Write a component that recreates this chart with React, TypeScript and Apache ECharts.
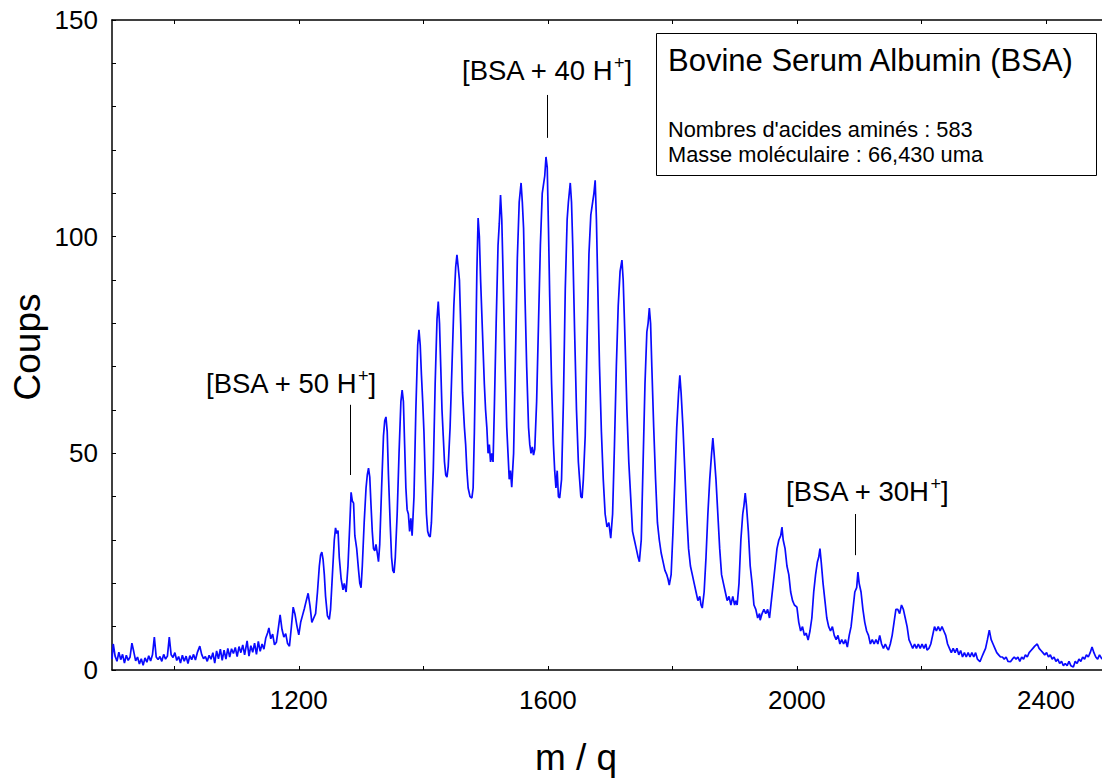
import React, { useEffect, useRef } from "react";
import * as echarts from "echarts";

const FONT = "'Liberation Sans', Arial, Helvetica, sans-serif";

// Spectrum (m/q, counts), in three segments
const lowMassSpectrum: [number, number][] = [
  [900, 2.5], [902, 6.0], [905, 3.2], [908, 2.0], [911, 4.1], [914, 2.4], [917, 3.6], [920, 1.6], [923, 3.4], [926, 2.2],
  [929, 3.0], [932, 6.2], [935, 4.2], [938, 2.1], [941, 3.0], [944, 1.4], [947, 2.6], [950, 1.1], [953, 2.8], [956, 1.8],
  [959, 3.3], [962, 2.1], [965, 3.5], [968, 7.6], [971, 3.0], [974, 2.4], [977, 3.1], [980, 2.0], [983, 3.6], [986, 2.5],
  [989, 3.2], [992, 7.6], [995, 3.5], [998, 2.9], [1001, 4.0], [1004, 2.2], [1007, 3.1], [1010, 1.6], [1013, 3.4], [1016, 2.0],
  [1019, 3.2], [1022, 1.5], [1025, 3.3], [1028, 2.4], [1031, 3.6], [1034, 2.3], [1037, 4.0], [1041, 5.5], [1044, 3.6], [1047, 2.6],
  [1050, 3.1], [1053, 2.0], [1056, 3.4], [1059, 2.5], [1062, 4.0], [1065, 1.6], [1068, 4.4], [1071, 2.6], [1074, 4.8], [1077, 2.2],
  [1080, 4.6], [1083, 2.5], [1086, 5.0], [1089, 3.0], [1092, 4.9], [1095, 3.8], [1098, 5.2], [1101, 3.1], [1104, 5.4], [1107, 4.0],
  [1110, 5.8], [1113, 3.5], [1117, 6.7], [1120, 3.2], [1123, 5.6], [1126, 4.1], [1129, 6.2], [1132, 3.6], [1135, 6.6], [1138, 4.3],
  [1141, 6.0], [1144, 4.8], [1147, 7.4], [1150, 8.6], [1152, 9.7], [1155, 7.2], [1158, 8.3], [1161, 5.8], [1164, 6.4], [1167, 9.5],
  [1170, 12.7], [1173, 9.4], [1176, 7.6], [1179, 8.4], [1182, 6.1], [1185, 5.5], [1188, 9.8], [1191, 14.5], [1194, 12.8], [1197, 10.2],
  [1200, 8.1], [1203, 11.0], [1206, 12.6], [1209, 14.2], [1212, 16.0], [1215, 17.7], [1218, 14.8], [1221, 11.0], [1224, 12.0], [1227, 13.0],
  [1230, 18], [1233, 24], [1235, 26.5], [1237, 27.2], [1239, 25.5], [1241, 22], [1243, 17], [1246, 12.5], [1249, 11.7], [1251, 14],
  [1254, 22], [1257, 30], [1259, 32.8], [1261, 31.5], [1263, 32.2], [1265, 26], [1268, 21], [1271, 18.5], [1273, 20], [1276, 18],
  [1279, 24], [1282, 34], [1284, 41], [1286, 39], [1288, 38.5], [1290, 31], [1293, 28], [1296, 23], [1298, 20], [1300, 19],
];

const centralSpectrum: [number, number][] = [
  [1302, 24], [1305, 34], [1308, 42], [1310, 45], [1312, 46.6], [1314, 44.5], [1316, 38], [1318, 32], [1320, 28], [1322, 27.5],
  [1324, 29], [1326, 27], [1328, 25], [1330, 29], [1333, 42], [1336, 54], [1338, 57.5], [1340, 58.4], [1342, 55], [1344, 45],
  [1347, 33], [1349, 26], [1351, 23], [1353, 22.4], [1355, 26], [1358, 36], [1361, 50], [1364, 62], [1366, 64.6], [1368, 62],
  [1370, 52], [1372, 42], [1374, 37], [1376, 36], [1378, 32], [1380, 35], [1382, 31], [1385, 40], [1388, 60], [1391, 75],
  [1393, 78.5], [1395, 75], [1397, 68], [1399, 62], [1401, 55], [1403, 45], [1405, 36], [1407, 32], [1409, 31], [1411, 30.7],
  [1413, 34], [1416, 46], [1419, 66], [1422, 81], [1424, 85], [1426, 80], [1428, 70], [1430, 60], [1432, 54], [1434, 48],
  [1436, 45], [1438, 44.5], [1440, 47], [1443, 56], [1446, 70], [1449, 84], [1452, 93], [1454, 95.8], [1456, 93], [1458, 90],
  [1460, 80], [1463, 64], [1466, 56], [1468, 52], [1470, 46], [1472, 42], [1475, 40], [1478, 39.7], [1480, 42], [1482, 55],
  [1484, 72], [1486, 92], [1488, 104.3], [1490, 100], [1492, 90], [1495, 78], [1498, 66], [1500, 60], [1502, 56], [1504, 50],
  [1506, 52], [1508, 48], [1510, 50], [1512, 48], [1514, 60], [1517, 80], [1520, 98], [1522, 103], [1524, 109.6], [1526, 104],
  [1528, 92], [1531, 72], [1534, 56], [1536, 50], [1538, 44], [1540, 46], [1542, 42.2], [1545, 50], [1548, 72], [1551, 95],
  [1554, 108], [1557, 112.4], [1559, 108], [1561, 102], [1563, 88], [1566, 70], [1569, 56], [1571, 52], [1573, 50], [1575, 51.5],
  [1577, 49.6], [1579, 51], [1582, 62], [1585, 80], [1588, 98], [1591, 110], [1593, 112], [1595, 114], [1597, 118.4], [1599, 116],
  [1601, 102], [1603, 86], [1606, 66], [1609, 52], [1611, 46], [1613, 42], [1615, 46], [1617, 40], [1619, 39.7], [1622, 44],
  [1625, 62], [1628, 88], [1631, 104], [1633, 108], [1636, 112.4], [1638, 108], [1640, 98], [1643, 78], [1646, 60], [1649, 48],
  [1651, 44], [1653, 40], [1655, 39.7], [1657, 44], [1660, 54], [1663, 76], [1666, 96], [1669, 105], [1671, 107], [1674, 110],
  [1676, 113], [1678, 104], [1680, 90], [1683, 70], [1686, 55], [1689, 44], [1692, 36], [1695, 33], [1698, 34], [1701, 30.4],
];

const highMassSpectrum: [number, number][] = [
  [1704, 36], [1707, 52], [1710, 70], [1713, 84], [1716, 92], [1719, 94.6], [1721, 90], [1724, 76], [1727, 60], [1730, 48],
  [1733, 40], [1736, 32], [1739, 30], [1742, 28], [1745, 26], [1747, 25], [1750, 30], [1753, 48], [1756, 66], [1759, 78],
  [1761, 80], [1763, 83.5], [1765, 80], [1767, 70], [1770, 56], [1773, 44], [1776, 34], [1779, 30], [1782, 27], [1785, 25],
  [1788, 23], [1791, 22], [1793, 21], [1795, 19.6], [1798, 22], [1801, 32], [1804, 44], [1807, 56], [1810, 64], [1812, 68],
  [1814, 64], [1817, 56], [1820, 46], [1823, 36], [1826, 28], [1829, 24], [1832, 22], [1835, 20], [1838, 18], [1841, 16],
  [1844, 17], [1846, 15], [1848, 14.3], [1851, 18], [1854, 26], [1857, 36], [1860, 44], [1863, 50], [1865, 53.5], [1867, 50],
  [1870, 44], [1873, 36], [1876, 28], [1879, 22], [1882, 20], [1885, 18], [1888, 16], [1891, 17], [1894, 15], [1897, 17],
  [1900, 15], [1902, 16], [1904, 15], [1907, 20], [1910, 30], [1913, 36], [1915, 38], [1917, 40.8], [1919, 38], [1922, 32],
  [1925, 24], [1928, 20], [1931, 15], [1934, 14], [1937, 12], [1940, 13], [1941, 11.5], [1944, 13], [1947, 14], [1950, 13],
  [1953, 14], [1956, 12], [1959, 16], [1962, 20], [1965, 24], [1968, 28], [1971, 30], [1974, 31], [1976, 33], [1978, 30],
  [1981, 28], [1984, 24], [1987, 22], [1990, 18], [1993, 16], [1996, 15], [2000, 14.5], [2003, 11], [2006, 9], [2009, 10],
  [2012, 8], [2015, 8.5], [2018, 6.9], [2021, 9], [2024, 12], [2027, 18], [2030, 22], [2033, 25], [2035, 26], [2037, 28],
  [2039, 25], [2042, 20], [2045, 16], [2048, 12], [2051, 10], [2054, 9], [2057, 10], [2060, 8], [2063, 7], [2066, 8],
  [2069, 6], [2072, 7], [2075, 6], [2078, 7], [2081, 5.3], [2084, 8], [2087, 10], [2090, 14], [2093, 18], [2096, 19],
  [2098, 22.6], [2100, 20], [2103, 18], [2106, 14], [2109, 11], [2112, 9], [2115, 8], [2118, 6], [2121, 7], [2124, 6],
  [2127, 7], [2130, 6], [2133, 8], [2136, 6], [2139, 5], [2142, 6], [2145, 5], [2147, 4.6], [2150, 6], [2153, 8],
  [2156, 11], [2159, 14], [2162, 14], [2165, 13], [2168, 15], [2171, 14], [2174, 12], [2177, 10], [2180, 7], [2183, 6],
  [2186, 5], [2189, 6], [2192, 5], [2195, 6], [2198, 5], [2201, 6], [2204, 5], [2207, 6], [2209, 4.6], [2212, 5],
  [2215, 6], [2218, 8], [2221, 10], [2224, 9], [2227, 10], [2230, 9], [2233, 10], [2236, 9], [2239, 8], [2242, 6],
  [2245, 5], [2248, 4], [2251, 5], [2254, 4], [2257, 5], [2260, 3.5], [2263, 4.5], [2266, 3], [2269, 4], [2272, 3],
  [2275, 4], [2278, 3], [2281, 4], [2284, 3], [2287, 4], [2290, 2.5], [2294, 1.9], [2297, 3], [2300, 4], [2303, 5],
  [2306, 7], [2309, 9.2], [2312, 7], [2315, 6], [2318, 5], [2321, 4], [2324, 3.5], [2327, 3], [2330, 3], [2333, 2.5],
  [2336, 3], [2339, 2], [2343, 1.9], [2346, 2.5], [2349, 3], [2352, 2.5], [2355, 3], [2358, 2], [2361, 3], [2364, 2.5],
  [2367, 3.5], [2370, 3], [2373, 4], [2376, 4.5], [2379, 5], [2382, 5.5], [2386, 6], [2389, 5], [2392, 4.5], [2395, 4],
  [2398, 3.5], [2401, 4], [2404, 3], [2407, 3.5], [2410, 2.5], [2413, 3], [2416, 2], [2419, 2.5], [2422, 1.5], [2425, 2],
  [2428, 1], [2431, 1.5], [2434, 1], [2437, 2], [2440, 1], [2444, 0.7], [2447, 2], [2450, 1.5], [2453, 2.5], [2456, 2],
  [2459, 3], [2462, 2.5], [2465, 3.5], [2468, 3], [2471, 4], [2474, 5.3], [2477, 4], [2480, 3], [2483, 2.5], [2486, 3.5],
  [2490, 2.5],
];

// Axis ticks / labels
const xTickValues = [1000, 1200, 1400, 1600, 1800, 2000, 2200, 2400];
const xLabelValues = [1200, 1600, 2000, 2400];
const yTickValues = [0, 10, 20, 30, 40, 50, 60, 70, 80, 90, 100, 110, 120, 130, 140, 150];
const yLabelValues = [0, 50, 100, 150];

// Annotation marker lines: [m/q, yFrom, yTo]
const annotationLines: [number, number, number][] = [
  [1599, 122.8, 132.7],
  [1282, 45, 61.2],
  [2094, 26.5, 36],
];
// Annotation labels: [prefix, pixel x, pixel y]
const annotationLabels: [string, number, number][] = [
  ["[BSA + 40 H", 462, 70],
  ["[BSA + 50 H", 206, 383],
  ["[BSA + 30H", 786, 491],
];

const boxTitle = "Bovine Serum Albumin (BSA)";
const boxLines = ["Nombres d'acides aminés : 583", "Masse moléculaire : 66,430 uma"];

export default function App() {
  const ref = useRef<HTMLDivElement>(null);
  useEffect(() => {
    if (!ref.current) return;
    const chart = echarts.init(ref.current, undefined, { renderer: "svg" });
    const spectrum = [...lowMassSpectrum, ...centralSpectrum, ...highMassSpectrum];
    const axisCommon = {
      type: "value" as const,
      min: 900,
      max: 2490,
      splitLine: { show: false },
    };
    chart.setOption({
      animation: false,
      backgroundColor: "#ffffff",
      grid: { left: 112, top: 20, right: 0, bottom: 113, containLabel: false },
      xAxis: [
        {
          ...axisCommon,
          position: "bottom",
          axisLine: { show: true, onZero: false, lineStyle: { color: "#000", width: 1.5 } },
          axisTick: { show: true, inside: true, length: 4, customValues: xTickValues, lineStyle: { color: "#000" } },
          axisLabel: {
            show: true,
            customValues: xLabelValues,
            formatter: (v: number) => String(v),
            margin: 17,
            fontSize: 26,
            fontFamily: FONT,
            color: "#000",
          },
        },
        {
          ...axisCommon,
          position: "top",
          axisLine: { show: true, onZero: false, lineStyle: { color: "#000", width: 1.5 } },
          axisTick: { show: true, inside: true, length: 4, customValues: xTickValues, lineStyle: { color: "#000" } },
          axisLabel: { show: false },
        },
      ],
      yAxis: {
        type: "value",
        min: 0,
        max: 150,
        splitLine: { show: false },
        axisLine: { show: true, lineStyle: { color: "#000", width: 1.5 } },
        axisTick: { show: true, inside: true, length: 4, customValues: yTickValues, lineStyle: { color: "#000" } },
        axisLabel: {
          show: true,
          customValues: yLabelValues,
          formatter: (v: number) => String(v),
          margin: 14,
          fontSize: 26,
          fontFamily: FONT,
          color: "#000",
        },
      },
      series: [
        {
          type: "line",
          xAxisIndex: 0,
          data: spectrum,
          showSymbol: false,
          symbol: "none",
          lineStyle: { color: "#0a0aff", width: 1.7 },
          markLine: {
            silent: true,
            symbol: ["none", "none"],
            label: { show: false },
            lineStyle: { color: "#000", width: 1, type: "solid" },
            data: annotationLines.map(([x, y0, y1]) => [{ coord: [x, y0] }, { coord: [x, y1] }]),
          },
        },
      ],
      graphic: [
        {
          type: "rect",
          shape: { x: 656.5, y: 33.5, width: 440, height: 142 },
          style: { fill: "#fff", stroke: "#000", lineWidth: 1 },
          z: 10,
        },
        {
          type: "text",
          x: 668,
          y: 60,
          z: 11,
          style: { text: boxTitle, font: `31px ${FONT}`, fill: "#000", verticalAlign: "middle", align: "left" },
        },
        ...boxLines.map((t, i) => ({
          type: "text",
          x: 668,
          y: 129 + i * 25.5,
          z: 11,
          style: { text: t, font: `21.8px ${FONT}`, fill: "#000", verticalAlign: "middle", align: "left" },
        })),
        ...annotationLabels.map(([t, x, y]) => ({
          type: "text",
          x,
          y,
          z: 11,
          style: {
            text: `{m|${t}}{s|+}{m|]}`,
            verticalAlign: "middle",
            align: "left",
            rich: {
              m: { fontSize: 27.5, fontFamily: FONT, fill: "#000", color: "#000", lineHeight: 32 },
              s: { fontSize: 18, fontFamily: FONT, fill: "#000", color: "#000", lineHeight: 16, verticalAlign: "top" },
            },
          },
        })),
        {
          type: "text",
          x: 27,
          y: 347,
          rotation: Math.PI / 2,
          style: { text: "Coups", font: `37px ${FONT}`, fill: "#000", align: "center", verticalAlign: "middle" },
        },
        {
          type: "text",
          x: 576,
          y: 757,
          style: { text: "m / q", font: `37px ${FONT}`, fill: "#000", align: "center", verticalAlign: "middle" },
        },
      ],
    });
    return () => chart.dispose();
  }, []);
  return (
    <div
      ref={ref}
      style={{ position: "fixed", left: 0, top: 0, width: 1102, height: 783, background: "#fff" }}
    />
  );
}
